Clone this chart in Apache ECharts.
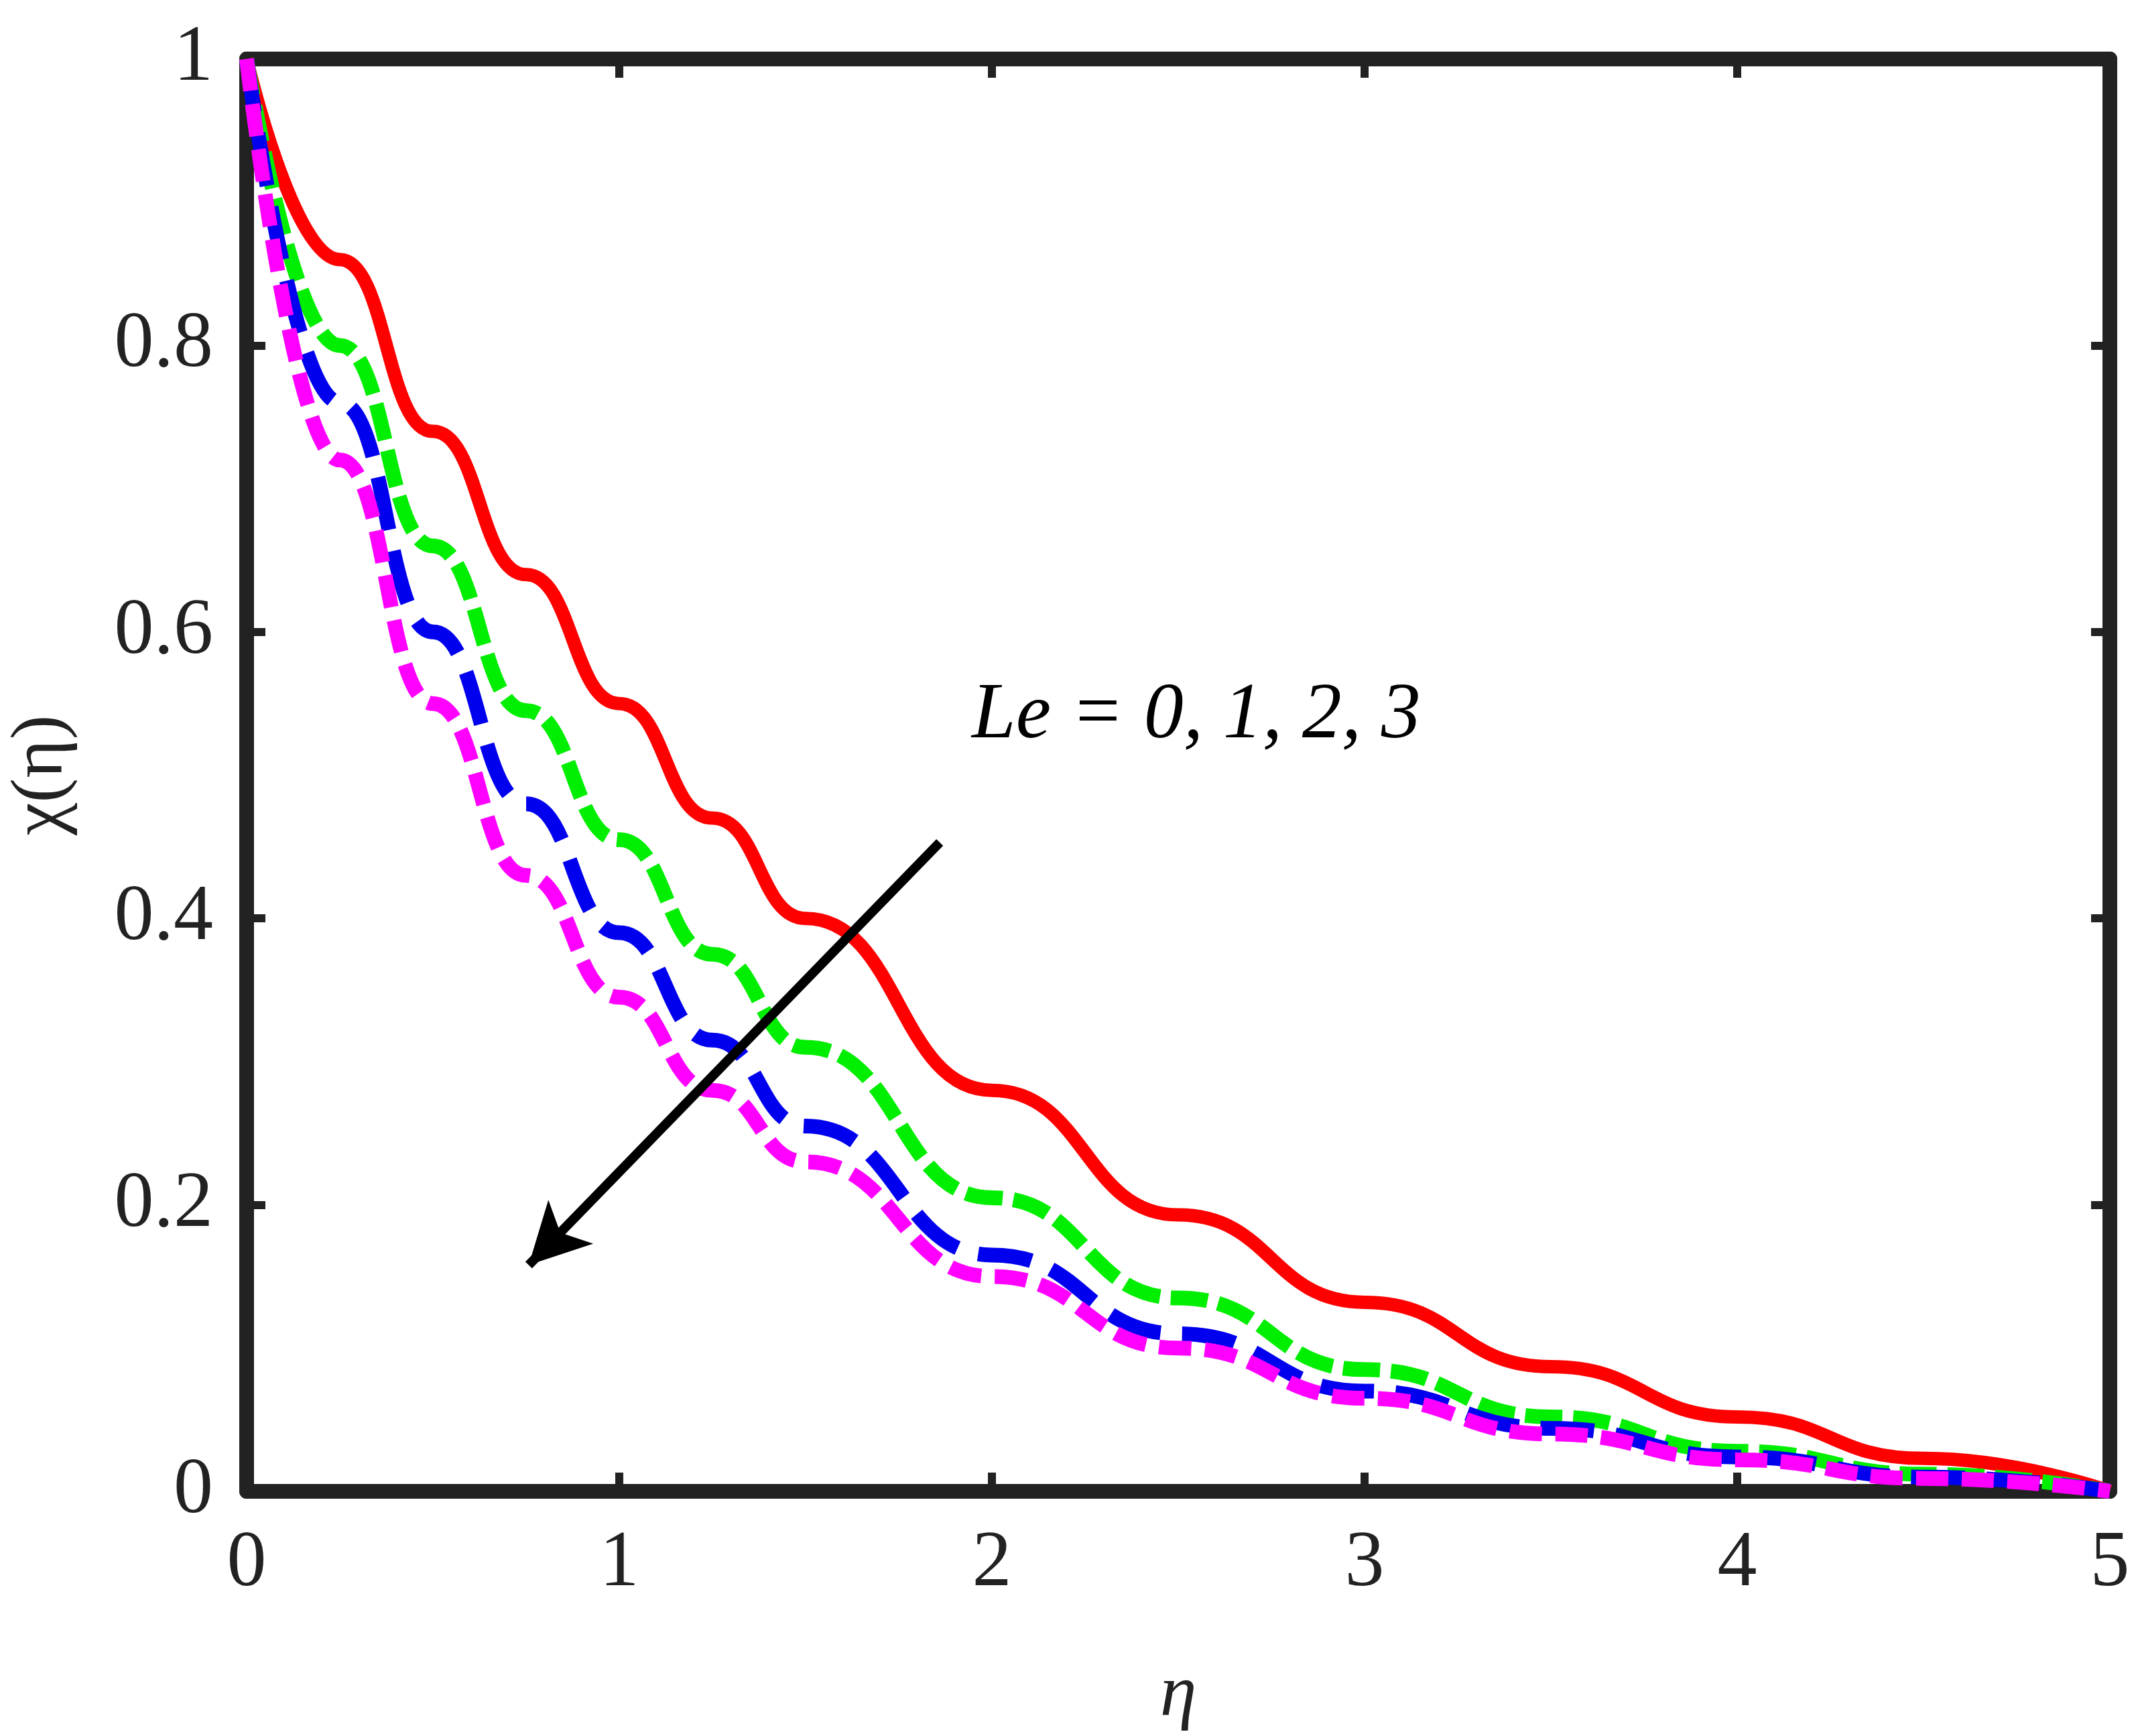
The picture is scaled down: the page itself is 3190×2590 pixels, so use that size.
<!DOCTYPE html>
<html>
<head>
<meta charset="utf-8">
<script src="https://cdn.jsdelivr.net/npm/echarts@6/dist/echarts.min.js"></script>
<style>html,body{margin:0;padding:0;background:#fff}#main{width:3190px;height:2590px}</style>
</head>
<body>
<div id="main"></div>
<script>
// eta values and the four Le curves
const eta = [0, 0.25, 0.5, 0.75, 1, 1.25, 1.5, 2, 2.5, 3, 3.5, 4, 4.5, 5];
const le0 = [1, 0.86, 0.74, 0.64, 0.55, 0.47, 0.40, 0.28, 0.193, 0.132, 0.087, 0.052, 0.023, 0];
const le1 = [1, 0.8, 0.66, 0.545, 0.455, 0.375, 0.31, 0.205, 0.135, 0.085, 0.052, 0.028, 0.012, 0];
const le2 = [1, 0.76, 0.6, 0.48, 0.39, 0.315, 0.255, 0.165, 0.11, 0.07, 0.044, 0.024, 0.01, 0];
const le3 = [1, 0.72, 0.55, 0.43, 0.345, 0.28, 0.23, 0.15, 0.1, 0.065, 0.04, 0.022, 0.009, 0];
const arrowFrom = [1.86, 0.453];
const arrowTo = [0.757, 0.158];

const pair = ys => eta.map((x, i) => [x, ys[i]]);
const font = '"Liberation Serif", "Times New Roman", serif';
const chart = echarts.init(document.getElementById('main'));

const tickStyle = {show: true, inside: true, length: 28, lineStyle: {color: '#222', width: 12}};
const lineStyle = {show: true, onZero: false, lineStyle: {color: '#222', width: 22}};
const baseX = {type: 'value', min: 0, max: 5, interval: 1, splitLine: {show: false}, axisTick: tickStyle, axisLine: lineStyle};
const baseY = {type: 'value', min: 0, max: 1, interval: 0.2, splitLine: {show: false}, axisTick: tickStyle, axisLine: lineStyle};

function curve(ys, color, width, dash) {
  return {type: 'line', data: pair(ys), smooth: true, smoothMonotone: 'x', showSymbol: false, z: 3,
    lineStyle: {color: color, width: width, type: dash, cap: 'butt'}};
}

chart.setOption({
  animation: false,
  backgroundColor: '#fff',
  grid: {left: 356, right: 42, top: 88, bottom: 319},
  xAxis: [
    Object.assign({}, baseX, {position: 'bottom', name: 'η', nameLocation: 'middle', nameGap: 250,
      nameTextStyle: {fontFamily: font, fontStyle: 'italic', fontSize: 110, color: '#222'},
      axisLabel: {fontFamily: font, fontSize: 118, color: '#222', margin: 50}}),
    Object.assign({}, baseX, {position: 'top', axisLabel: {show: false}})
  ],
  yAxis: [
    Object.assign({}, baseY, {position: 'left', name: 'χ(η)', nameLocation: 'middle', nameGap: 250,
      nameTextStyle: {fontFamily: font, fontSize: 110, color: '#222'},
      axisLabel: {fontFamily: font, fontSize: 118, color: '#222', margin: 50,
        formatter: v => String(Math.round(v * 10) / 10)}}),
    Object.assign({}, baseY, {position: 'right', axisLabel: {show: false}})
  ],
  series: [
    curve(le0, '#ff0000', 20, 'solid'),
    curve(le1, '#00ee00', 22, [55, 16]),
    curve(le2, '#0000ee', 22, [80, 32]),
    curve(le3, '#ff00ff', 22, [48, 20]),
    {type: 'line', data: [], z: 5,
      markLine: {silent: true, symbol: ['none', 'arrow'], symbolSize: [70, 90],
        lineStyle: {color: '#000', width: 14, type: 'solid'}, label: {show: false},
        data: [[{coord: arrowFrom}, {coord: arrowTo}]]}}
  ],
  graphic: [{type: 'text', left: 1450, top: 1010,
    style: {text: 'Le = 0, 1, 2, 3', fontFamily: font, fontStyle: 'italic', fontSize: 118, fill: '#000'}}]
});
</script>
</body>
</html>
